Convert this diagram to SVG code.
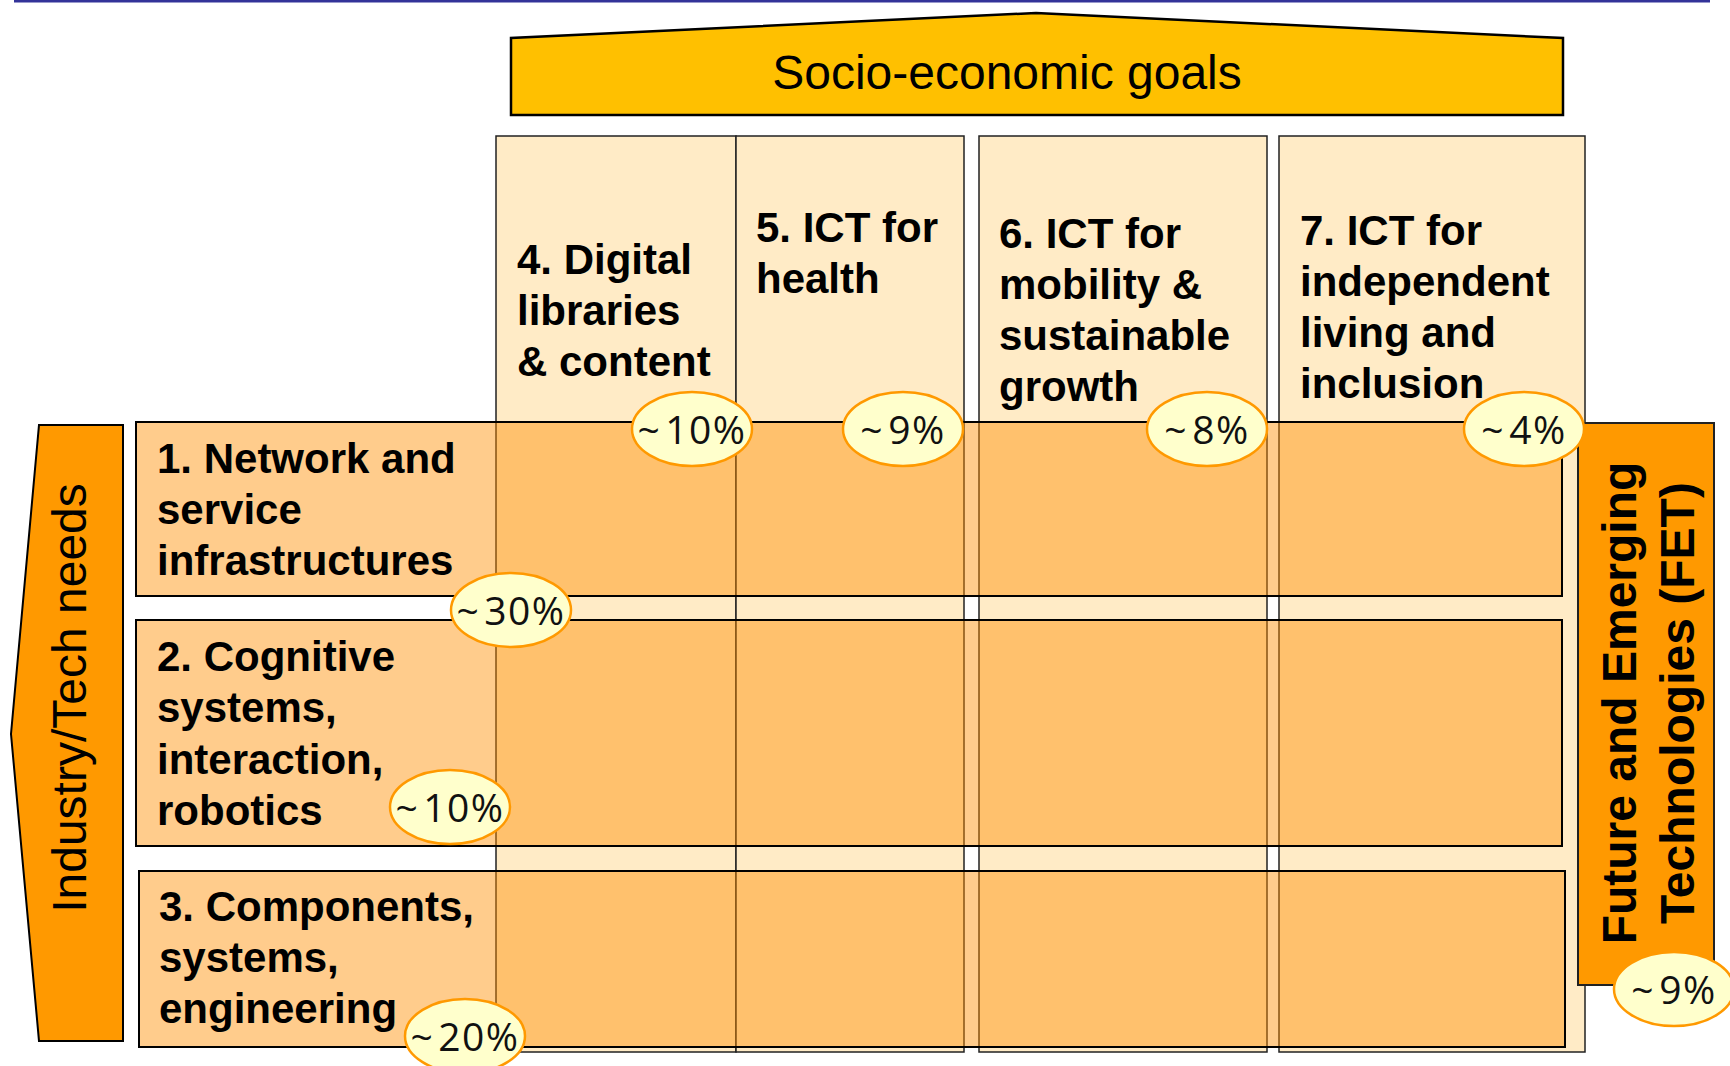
<svg xmlns="http://www.w3.org/2000/svg" width="1730" height="1066" viewBox="0 0 1730 1066">
<style>
.col{fill:#FFEBC6;stroke:#222;stroke-width:1.5}
.row{fill:#FF8D00;fill-opacity:0.45;stroke:#000;stroke-width:2}
.lbl{font-family:"Liberation Sans",Arial,sans-serif;font-weight:bold;font-size:42px;fill:#000}
.side{font-family:"Liberation Sans",Arial,sans-serif;fill:#000;text-anchor:middle}
.badge ellipse{fill:#FFFFCC;stroke:#FF9900;stroke-width:2.5}
.badge text{font-family:"Open Sans","Noto Sans",sans-serif;font-size:39px;letter-spacing:1.5px;fill:#111;text-anchor:middle}
</style>
<rect width="1730" height="1066" fill="#fff"/>
<line x1="14" y1="1" x2="1710" y2="1" stroke="#333399" stroke-width="3"/>

<g id="goals">
<polygon points="511,115 511,38 1036,13 1563,38 1563,115" fill="#FFC000" stroke="#000" stroke-width="2.5"/>
<text x="1007" y="89" class="side" font-size="48">Socio-economic goals</text>
</g>

<g id="columns">
<rect id="col4" class="col" x="496" y="136" width="240" height="916"/>
<rect id="col5" class="col" x="736" y="136" width="228" height="916"/>
<rect id="col6" class="col" x="979" y="136" width="288" height="916"/>
<rect id="col7" class="col" x="1279" y="136" width="306" height="916"/>
</g>

<g id="rows">
<rect id="row1" class="row" x="136" y="422" width="1426" height="174"/>
<rect id="row2" class="row" x="136" y="620" width="1426" height="226"/>
<rect id="row3" class="row" x="139" y="871" width="1426" height="176"/>
</g>

<g id="industry">
<polygon points="39,425 123,425 123,1041 39,1041 11,734" fill="#FF9900" stroke="#000" stroke-width="2"/>
<text class="side" font-size="48" transform="translate(86,698) rotate(-90)">Industry/Tech needs</text>
</g>

<g id="fet">
<rect x="1578" y="423" width="136" height="562" fill="#FF9900" stroke="#222" stroke-width="2"/>
<text class="side" font-size="48" font-weight="bold" transform="translate(1636,703) rotate(-90)">Future and Emerging</text>
<text class="side" font-size="48" font-weight="bold" transform="translate(1694,703) rotate(-90)">Technologies (FET)</text>
</g>

<g id="labels">
<text class="lbl"><tspan x="517" y="274">4. Digital</tspan><tspan x="517" y="325">libraries</tspan><tspan x="517" y="376">&amp; content</tspan></text>
<text class="lbl"><tspan x="756" y="242">5. ICT for</tspan><tspan x="756" y="293">health</tspan></text>
<text class="lbl"><tspan x="999" y="248">6. ICT for</tspan><tspan x="999" y="299">mobility &amp;</tspan><tspan x="999" y="350">sustainable</tspan><tspan x="999" y="401">growth</tspan></text>
<text class="lbl"><tspan x="1300" y="245">7. ICT for</tspan><tspan x="1300" y="296">independent</tspan><tspan x="1300" y="347">living and</tspan><tspan x="1300" y="398">inclusion</tspan></text>
<text class="lbl"><tspan x="157" y="473">1. Network and</tspan><tspan x="157" y="524">service</tspan><tspan x="157" y="575">infrastructures</tspan></text>
<text class="lbl"><tspan x="157" y="671">2. Cognitive</tspan><tspan x="157" y="722">systems,</tspan><tspan x="157" y="774">interaction,</tspan><tspan x="157" y="825">robotics</tspan></text>
<text class="lbl"><tspan x="159" y="921">3. Components,</tspan><tspan x="159" y="972">systems,</tspan><tspan x="159" y="1023">engineering</tspan></text>
</g>

<g id="badges">
<g class="badge"><ellipse cx="692" cy="429" rx="60" ry="37"/><text x="692" y="444">~<tspan dx="4">10%</tspan></text></g>
<g class="badge"><ellipse cx="903" cy="429" rx="60" ry="37"/><text x="903" y="444">~<tspan dx="4">9%</tspan></text></g>
<g class="badge"><ellipse cx="1207" cy="429" rx="60" ry="37"/><text x="1207" y="444">~<tspan dx="4">8%</tspan></text></g>
<g class="badge"><ellipse cx="1524" cy="429" rx="60" ry="37"/><text x="1524" y="444">~<tspan dx="4">4%</tspan></text></g>
<g class="badge"><ellipse cx="511" cy="610" rx="60" ry="37"/><text x="511" y="625">~<tspan dx="4">30%</tspan></text></g>
<g class="badge"><ellipse cx="450" cy="807" rx="60" ry="37"/><text x="450" y="822">~<tspan dx="4">10%</tspan></text></g>
<g class="badge"><ellipse cx="465" cy="1036" rx="60" ry="37"/><text x="465" y="1051">~<tspan dx="4">20%</tspan></text></g>
<g class="badge"><ellipse cx="1674" cy="989" rx="60" ry="37"/><text x="1674" y="1004">~<tspan dx="4">9%</tspan></text></g>
</g>
</svg>
